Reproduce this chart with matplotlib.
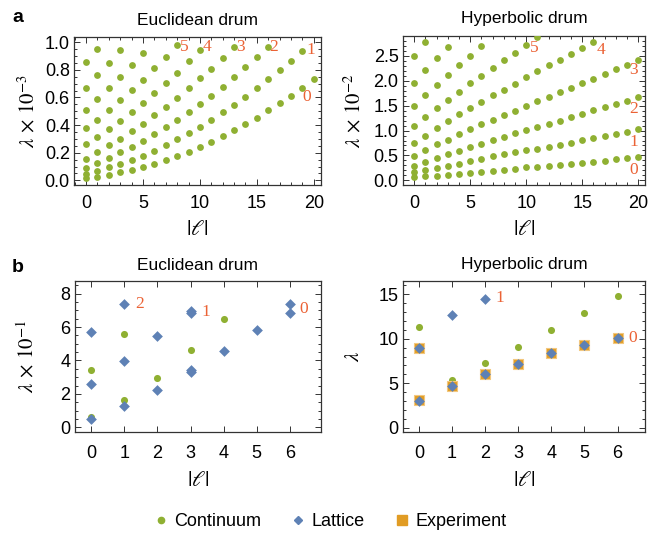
import numpy as np
import matplotlib
matplotlib.use("Agg")
from matplotlib import pyplot as plt
from matplotlib.ticker import MultipleLocator, FormatStrFormatter
from matplotlib.lines import Line2D

plt.rcParams['font.family'] = ['Liberation Sans', 'DejaVu Sans']
plt.rcParams['mathtext.fontset'] = 'stix'

# colours (Mathematica default palette)
GREEN = '#8FB032'
BLUE = '#5E81B5'
ORANGE = '#E19C24'
RED = '#EB6235'
FRAME = '#333333'

# ---- panel a, Euclidean drum: lambda x 1e-3 per radial branch, starting at |l| = 0
euc_n0 = [0.015, 0.027, 0.042, 0.058, 0.075, 0.093, 0.118, 0.147, 0.176, 0.208, 0.244,
          0.279, 0.319, 0.362, 0.408, 0.455, 0.507, 0.558, 0.612, 0.670, 0.731]
euc_n1 = [0.045, 0.070, 0.095, 0.118, 0.147, 0.179, 0.215, 0.255, 0.297, 0.341, 0.389,
          0.440, 0.492, 0.546, 0.605, 0.666, 0.731, 0.797, 0.865, 0.937]
euc_n2 = [0.092, 0.128, 0.160, 0.203, 0.244, 0.285, 0.333, 0.384, 0.436, 0.492, 0.550,
          0.613, 0.678, 0.745, 0.818, 0.890, 0.964]
euc_n3 = [0.158, 0.206, 0.256, 0.302, 0.357, 0.410, 0.470, 0.533, 0.597, 0.668, 0.741,
          0.810, 0.886, 0.964]
euc_n4 = [0.261, 0.316, 0.372, 0.432, 0.493, 0.560, 0.630, 0.706, 0.781, 0.862, 0.942]
euc_n5 = [0.377, 0.440, 0.507, 0.580, 0.655, 0.730, 0.812, 0.896, 0.983]
euc_n6 = [0.512, 0.589, 0.666, 0.751, 0.836, 0.922]
euc_n7 = [0.672, 0.760, 0.850, 0.943]
euc_n8 = [0.856, 0.951]
euc_labels = ['5', '4', '3', '2', '1', '0']
euc_label_x = [8.65, 10.65, 13.55, 16.5, 19.75, 19.35]
euc_label_y = [0.964, 0.964, 0.964, 0.968, 0.944, 0.60]

# ---- panel a, hyperbolic drum: lambda x 1e-2
hyp_n0 = [0.07, 0.085, 0.095, 0.11, 0.127, 0.147, 0.167, 0.187, 0.205, 0.235, 0.26,
          0.272, 0.294, 0.307, 0.33, 0.35, 0.37, 0.39, 0.42, 0.445, 0.47]
hyp_n1 = [0.16, 0.20, 0.24, 0.29, 0.33, 0.385, 0.43, 0.48, 0.52, 0.56, 0.60,
          0.635, 0.677, 0.715, 0.758, 0.805, 0.845, 0.89, 0.935, 0.98, 1.03]
hyp_n2 = [0.29, 0.37, 0.442, 0.523, 0.597, 0.664, 0.737, 0.811, 0.871, 0.945, 1.012,
          1.075, 1.14, 1.20, 1.267, 1.328, 1.408, 1.469, 1.536, 1.603, 1.684]
hyp_n3 = [0.49, 0.61, 0.72, 0.82, 0.925, 1.026, 1.126, 1.213, 1.314, 1.402, 1.49,
          1.589, 1.684, 1.771, 1.864, 1.958, 2.045, 2.146, 2.233, 2.32, 2.414]
hyp_n4 = [0.76, 0.90, 1.05, 1.19, 1.33, 1.46, 1.58, 1.71, 1.82, 1.945, 2.07,
          2.19, 2.31, 2.42, 2.535, 2.655, 2.77]
hyp_n5 = [1.09, 1.27, 1.46, 1.62, 1.78, 1.96, 2.105, 2.26, 2.41, 2.555, 2.716, 2.87]
hyp_n6 = [1.50, 1.71, 1.91, 2.11, 2.31, 2.50, 2.69]
hyp_n7 = [1.96, 2.21, 2.45, 2.675]
hyp_n8 = [2.49, 2.77]
hyp_labels = ['5', '4', '3', '2', '1', '0']
hyp_label_x = [10.7, 16.65, 19.6, 19.6, 19.6, 19.6]
hyp_label_y = [2.66, 2.62, 2.21, 1.43, 0.78, 0.21]

# ---- panel b, Euclidean drum: lambda x 1e-1
b_euc_cont_l = [0, 0, 1, 1, 2, 3, 4]
b_euc_cont = [0.64, 3.43, 1.66, 5.57, 2.97, 4.61, 6.51]
b_euc_latt_l = [0, 0, 0, 1, 1, 1, 2, 2, 3, 3, 3, 3, 4, 5, 6, 6]
b_euc_latt = [0.50, 2.57, 5.73, 1.28, 3.99, 7.39, 2.26, 5.49, 3.31, 3.45, 6.85, 6.99,
              4.59, 5.83, 6.87, 7.37]
b_euc_labels = ['2', '1', '0']
b_euc_label_x = [1.47, 3.46, 6.43]
b_euc_label_y = [7.39, 6.89, 7.09]

# ---- panel b, hyperbolic drum: lambda
b_hyp_cont_l = [0, 1, 2, 3, 4, 5, 6]
b_hyp_cont = [11.29, 5.32, 7.27, 9.11, 10.99, 12.86, 14.81]
b_hyp_latt_l = [0, 0, 1, 1, 2, 2, 3, 4, 5, 6]
b_hyp_latt = [3.04, 8.92, 4.69, 12.71, 6.0, 14.47, 7.12, 8.44, 9.30, 10.12]
b_hyp_exp_l = [0, 0, 1, 2, 3, 4, 5, 6]
b_hyp_exp = [3.06, 8.95, 4.72, 6.05, 7.14, 8.40, 9.30, 10.12]
b_hyp_labels = ['1', '0']
b_hyp_label_x = [2.45, 6.45]
b_hyp_label_y = [14.55, 10.1]


def style_frame(ax, xmaj, xmin, ymaj, ymin, xpad):
    for s in ax.spines.values():
        s.set_color(FRAME)
        s.set_linewidth(0.9)
    ax.xaxis.set_major_locator(MultipleLocator(xmaj))
    ax.yaxis.set_major_locator(MultipleLocator(ymaj))
    if xmin:
        ax.xaxis.set_minor_locator(MultipleLocator(xmin))
    if ymin:
        ax.yaxis.set_minor_locator(MultipleLocator(ymin))
    ax.tick_params(which='both', direction='in', top=True, right=True,
                   color=FRAME, width=0.7, labelsize=13, labelcolor='black')
    ax.tick_params(which='major', length=4.5)
    ax.tick_params(which='minor', length=2.5)
    ax.tick_params(axis='x', which='major', pad=xpad)
    ax.tick_params(axis='y', which='major', pad=3)


def branch_plot(ax, branches, size):
    for b in branches:
        ell = np.arange(len(b))
        ax.scatter(ell, b, s=size, color=GREEN, linewidths=0, zorder=3)


def put_labels(ax, labels, xs, ys, size=12.5):
    for t, x, y in zip(labels, xs, ys):
        ax.text(x, y, t, color=RED, fontsize=size, family='Liberation Serif',
                ha='center', va='center', zorder=4)


def decorate(ax, title, ylabel, title_px, ylab_x, xlab_px):
    h = ax.get_position().height * H
    ax.text(0.5, 1 + title_px / h, title, transform=ax.transAxes,
            ha='center', va='center', fontsize=12.5)
    ax.set_ylabel(ylabel, fontsize=15, va='center')
    ax.yaxis.set_label_coords(ylab_x, 0.5)
    ax.set_xlabel(r'$|\ell|$', fontsize=16, va='center')
    ax.xaxis.set_label_coords(0.5, -xlab_px / h)


fig = plt.figure(figsize=(6.48, 5.33), dpi=100)
W, H = 648.0, 533.0


def make_axes(l, r, t, b):
    return fig.add_axes([l / W, 1 - b / H, (r - l) / W, (b - t) / H])


ax1 = make_axes(74, 320.7, 37.3, 185.3)
ax2 = make_axes(402.7, 645, 36, 185.3)
ax3 = make_axes(74.7, 320.7, 281, 432.3)
ax4 = make_axes(402.7, 645, 281, 432.3)

# a, Euclidean
branch_plot(ax1, [euc_n0, euc_n1, euc_n2, euc_n3, euc_n4, euc_n5, euc_n6, euc_n7, euc_n8], 24)
put_labels(ax1, euc_labels, euc_label_x, euc_label_y)
ax1.set_xlim(-1.05, 20.6)
ax1.set_ylim(-0.036, 1.036)
style_frame(ax1, 5, 1, 0.2, 0.05, 7)
ax1.yaxis.set_major_formatter(FormatStrFormatter('%.1f'))
decorate(ax1, 'Euclidean drum', r'$\lambda \,\times\, 10^{-3}$', 17, -0.19, 44)

# a, hyperbolic
branch_plot(ax2, [hyp_n0, hyp_n1, hyp_n2, hyp_n3, hyp_n4, hyp_n5, hyp_n6, hyp_n7, hyp_n8], 24)
put_labels(ax2, hyp_labels, hyp_label_x, hyp_label_y)
ax2.set_xlim(-1.03, 20.6)
ax2.set_ylim(-0.10, 2.90)
style_frame(ax2, 5, 1, 0.5, 0.1, 7)
ax2.yaxis.set_major_formatter(FormatStrFormatter('%.1f'))
decorate(ax2, 'Hyperbolic drum', r'$\lambda \,\times\, 10^{-2}$', 17, -0.205, 44)

# b, Euclidean
ax3.scatter(b_euc_cont_l, b_euc_cont, s=26, color=GREEN, linewidths=0, zorder=3)
ax3.scatter(b_euc_latt_l, b_euc_latt, s=30, marker='D', color=BLUE, linewidths=0, zorder=4)
put_labels(ax3, b_euc_labels, b_euc_label_x, b_euc_label_y)
ax3.set_xlim(-0.5, 6.93)
ax3.set_ylim(-0.30, 8.76)
style_frame(ax3, 1, None, 2, 0.5, 9)
decorate(ax3, 'Euclidean drum', r'$\lambda \,\times\, 10^{-1}$', 16, -0.195, 48)

# b, hyperbolic
ax4.scatter(b_hyp_cont_l, b_hyp_cont, s=26, color=GREEN, linewidths=0, zorder=3)
ax4.scatter(b_hyp_exp_l, b_hyp_exp, s=62, marker='s', color=ORANGE,
            edgecolors='#F2C77E', linewidths=0.8, zorder=4)
ax4.scatter(b_hyp_latt_l, b_hyp_latt, s=30, marker='D', color=BLUE, linewidths=0, zorder=5)
put_labels(ax4, b_hyp_labels, b_hyp_label_x, b_hyp_label_y)
ax4.set_xlim(-0.49, 6.83)
ax4.set_ylim(-0.52, 16.5)
style_frame(ax4, 1, None, 5, 1, 9)
decorate(ax4, 'Hyperbolic drum', r'$\lambda$', 16, -0.205, 48)

fig.text(12 / W, 1 - 17 / H, 'a', fontsize=14, fontweight='bold', va='center', ha='left')
fig.text(12 / W, 1 - 268 / H, 'b', fontsize=14, fontweight='bold', va='center', ha='left')

handles = [
    Line2D([], [], linestyle='', marker='o', markersize=4.5, color=GREEN, label='Continuum'),
    Line2D([], [], linestyle='', marker='D', markersize=4.5, color=BLUE, label='Lattice'),
    Line2D([], [], linestyle='', marker='s', markersize=7.5, color=ORANGE, label='Experiment'),
]
fig.legend(handles=handles, loc='center', bbox_to_anchor=(0.5 + 5 / W, 1 - 521.5 / H), ncol=3,
           frameon=False, fontsize=13, handletextpad=0.25, columnspacing=1.55,
           handlelength=1.0)

fig.savefig('out.png', dpi=100)
